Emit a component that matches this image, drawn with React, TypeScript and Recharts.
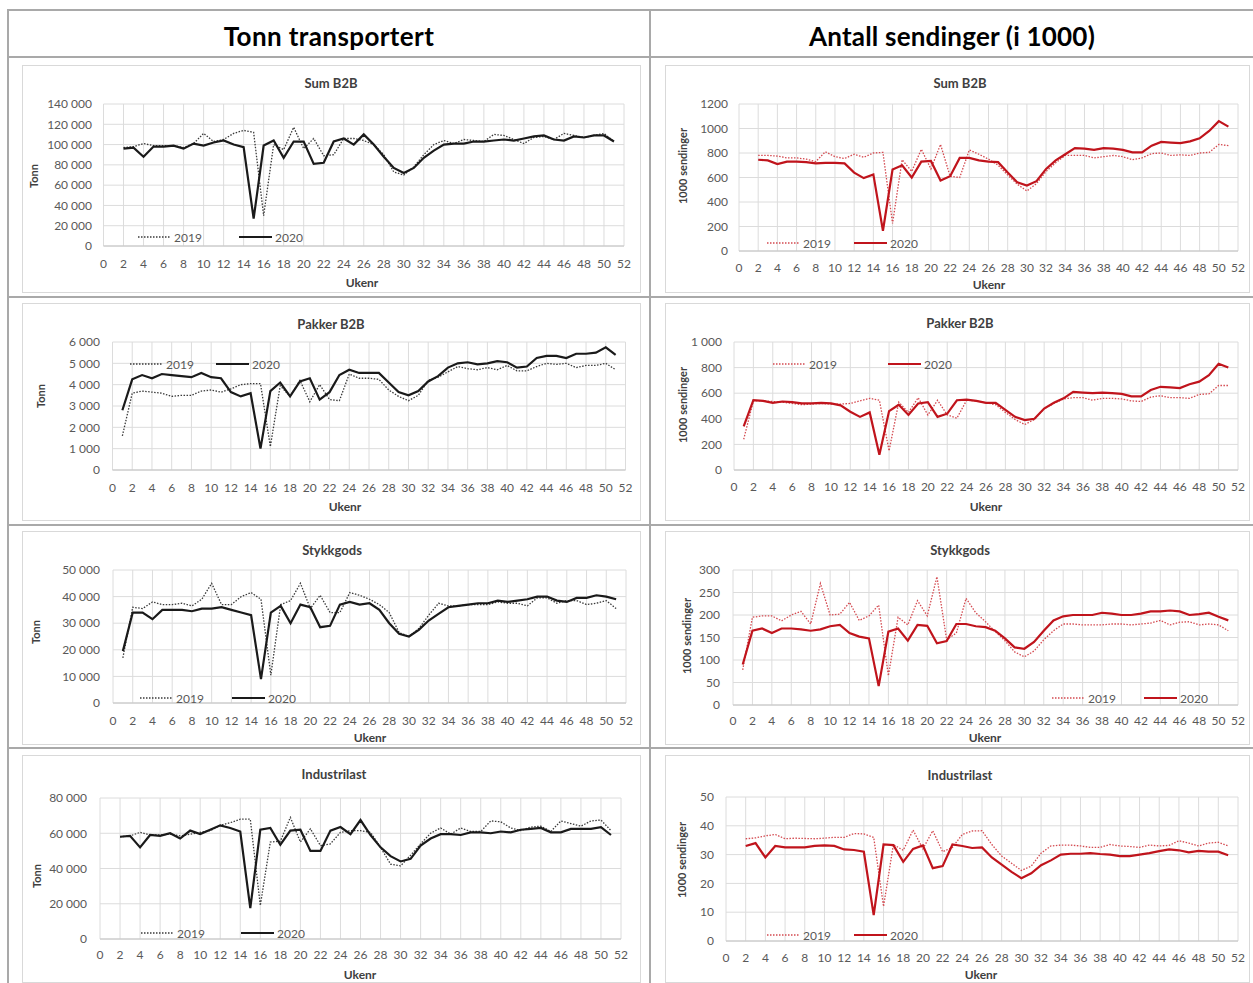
import { LineChart, Line, XAxis, YAxis, CartesianGrid } from 'recharts';

// --- categories ---
const weeksFrom1 = [1, 2, 3, 4, 5, 6, 7, 8, 9, 10, 11, 12, 13, 14, 15, 16, 17, 18, 19, 20, 21, 22, 23, 24, 25, 26, 27, 28, 29, 30, 31, 32, 33, 34, 35, 36, 37, 38, 39, 40, 41, 42, 43, 44, 45, 46, 47, 48, 49, 50, 51];
const weeksFrom2 = [2, 3, 4, 5, 6, 7, 8, 9, 10, 11, 12, 13, 14, 15, 16, 17, 18, 19, 20, 21, 22, 23, 24, 25, 26, 27, 28, 29, 30, 31, 32, 33, 34, 35, 36, 37, 38, 39, 40, 41, 42, 43, 44, 45, 46, 47, 48, 49, 50, 51];
const weekTicks = [0, 2, 4, 6, 8, 10, 12, 14, 16, 18, 20, 22, 24, 26, 28, 30, 32, 34, 36, 38, 40, 42, 44, 46, 48, 50, 52];

// --- Sum B2B ---
const sumTonn2019 = [97000, 98000, 101000, 99000, 99000, 99000, 97000, 101000, 111000, 103000, 105000, 111000, 114000, 112000, 30000, 100000, 95000, 117000, 96000, 106000, 89000, 90000, 106000, 106000, 104000, 100000, 90000, 73000, 70000, 78000, 90000, 100000, 104000, 101000, 105000, 104000, 103000, 110000, 109000, 105000, 101000, 107000, 108000, 105000, 111000, 109000, 107000, 109000, 111000, 103000];
const sumTonn2020 = [96000, 97000, 88000, 98000, 98000, 99000, 96000, 101000, 99000, 102000, 104000, 100000, 97500, 27000, 99000, 104000, 87000, 103000, 103000, 81000, 82000, 103000, 106000, 100000, 110000, 100000, 88000, 77000, 72000, 77000, 87000, 94000, 100000, 101000, 101000, 103000, 103000, 104000, 105000, 104000, 106000, 108000, 109000, 105000, 104000, 108000, 107000, 109000, 109000, 103000];
const sumSend2019 = [780, 780, 775, 760, 760, 750, 730, 810, 770, 755, 790, 765, 800, 805, 225, 745, 650, 830, 670, 870, 610, 600, 825, 790, 750, 700, 620, 545, 490, 550, 650, 720, 780, 780, 780, 760, 770, 780, 770, 745, 760, 795, 800, 780, 785, 780, 800, 805, 870, 860];
const sumSend2020 = [745, 740, 710, 730, 730, 725, 715, 720, 720, 715, 640, 595, 625, 165, 665, 700, 600, 730, 735, 575, 610, 760, 760, 740, 730, 725, 640, 560, 535, 570, 670, 740, 790, 840, 835, 825, 840, 835, 825, 805, 805, 860, 890, 885, 880, 895, 920, 980, 1060, 1015];

// --- Pakker B2B ---
const pakTonn2019 = [1600, 3600, 3700, 3650, 3600, 3450, 3500, 3500, 3700, 3750, 3650, 3800, 4000, 4050, 4050, 1100, 3950, 3450, 4200, 3200, 4000, 3300, 3250, 4500, 4300, 4300, 4250, 3750, 3450, 3250, 3500, 4200, 4350, 4600, 4850, 4750, 4700, 4800, 4700, 4900, 4650, 4650, 4850, 5000, 4950, 5000, 4800, 4900, 4900, 5000, 4700];
const pakTonn2020 = [2800, 4250, 4450, 4300, 4500, 4450, 4400, 4350, 4550, 4350, 4300, 3650, 3450, 3600, 1000, 3700, 4100, 3450, 4150, 4300, 3300, 3650, 4450, 4700, 4550, 4550, 4550, 4100, 3650, 3500, 3700, 4150, 4400, 4800, 5000, 5050, 4950, 5000, 5100, 5050, 4800, 4850, 5250, 5350, 5350, 5250, 5450, 5450, 5500, 5750, 5400];
const pakSend2019 = [240, 540, 540, 535, 530, 520, 510, 515, 520, 515, 515, 520, 540, 560, 545, 150, 530, 450, 565, 430, 545, 430, 405, 545, 540, 525, 510, 450, 395, 355, 395, 480, 520, 555, 565, 565, 545, 560, 560, 555, 540, 535, 570, 580, 565, 565, 560, 590, 595, 660, 660];
const pakSend2020 = [340, 545, 540, 525, 535, 530, 520, 520, 525, 520, 505, 455, 415, 450, 120, 460, 510, 430, 520, 530, 415, 440, 545, 550, 540, 525, 525, 470, 415, 390, 400, 480, 525, 560, 610, 605, 600, 605, 600, 595, 575, 575, 625, 650, 645, 640, 670, 690, 740, 830, 800];

// --- Stykkgods ---
const styTonn2019 = [17000, 36000, 35500, 38000, 37000, 37000, 37500, 36500, 39000, 45000, 37000, 37000, 40000, 41500, 39000, 10500, 37000, 38500, 45000, 35500, 40500, 34000, 34000, 41500, 40500, 39000, 37000, 34000, 26500, 25000, 28000, 33000, 37500, 36500, 36500, 37000, 37000, 37000, 38000, 37500, 37500, 36500, 39500, 39500, 37500, 38500, 38500, 37000, 37500, 38500, 35500];
const styTonn2020 = [19500, 34000, 34000, 31500, 35000, 35000, 35000, 34500, 35500, 35500, 36000, 35000, 34000, 33000, 9000, 34000, 36500, 30000, 37000, 36000, 28500, 29000, 37000, 38000, 37000, 37500, 35000, 30000, 26000, 25000, 27500, 31000, 33500, 36000, 36500, 37000, 37500, 37500, 38500, 38000, 38500, 39000, 40000, 40000, 38500, 38000, 39500, 39500, 40500, 40000, 39000];
const stySend2019 = [78, 195, 198, 198, 187, 200, 208, 180, 270, 200, 202, 228, 188, 198, 222, 65, 195, 178, 232, 198, 285, 145, 160, 237, 205, 185, 163, 143, 118, 107, 120, 145, 165, 180, 180, 178, 178, 178, 180, 180, 178, 180, 182, 188, 178, 184, 185, 178, 180, 178, 165];
const stySend2020 = [90, 165, 170, 160, 170, 170, 168, 165, 168, 175, 178, 160, 152, 148, 42, 163, 170, 143, 178, 176, 137, 142, 180, 180, 175, 173, 165, 148, 128, 125, 140, 165, 188, 197, 200, 200, 200, 205, 203, 200, 200, 203, 208, 208, 210, 208, 200, 202, 205, 196, 188];

// --- Industrilast ---
const indTonn2019 = [58000, 58500, 60500, 59000, 59000, 59500, 58500, 59500, 60500, 61500, 64500, 66000, 68000, 68000, 19000, 55000, 55500, 69000, 55000, 62500, 53000, 54000, 60500, 61500, 61500, 60500, 52000, 42500, 41500, 47500, 54000, 60000, 63000, 59500, 63000, 61000, 61000, 67000, 66500, 63000, 61500, 63500, 64000, 61000, 67000, 65500, 64000, 67000, 67500, 61500];
const indTonn2020 = [58000, 58500, 52000, 59000, 58500, 60000, 57000, 61500, 59500, 62000, 64500, 63000, 61000, 17500, 62000, 63000, 53500, 61500, 62000, 50000, 50000, 61500, 63500, 59500, 67500, 59000, 52000, 47000, 44000, 45500, 53000, 57000, 59500, 59500, 59000, 60500, 60500, 60000, 61000, 60500, 62000, 62500, 63000, 60500, 60500, 62500, 62500, 62500, 63500, 59000];
const indSend2019 = [35.5, 35.8, 36.5, 37, 35.5, 35.7, 35.6, 35.5, 35.7, 36, 36, 37.3, 37.2, 36, 12, 33.5, 31.5, 38.5, 32, 38.3, 31, 32.5, 37, 38.2, 38.3, 33.5, 29.5, 27, 24.5, 26, 30.5, 33, 33.3, 33.3, 33, 32.5, 32.5, 33.5, 33, 32.8, 32.5, 33.3, 33, 33.2, 34.8, 34, 33, 34, 34.3, 33];
const indSend2020 = [33, 34, 29, 33, 32.5, 32.5, 32.5, 33, 33.2, 33, 31.8, 31.6, 31, 9, 33.5, 33.3, 27.5, 32, 33.2, 25.3, 26, 33.5, 33, 32.3, 32.5, 29, 26.5, 24, 21.8, 23.5, 26.3, 28, 30, 30.3, 30.3, 30.5, 30.2, 30, 29.5, 29.5, 30, 30.5, 31.2, 31.8, 31.5, 30.8, 31.3, 31, 31, 29.8];

// --- y ticks ---
const ticksSumTonn = [0, 20000, 40000, 60000, 80000, 100000, 120000, 140000];
const ticksSumSend = [0, 200, 400, 600, 800, 1000, 1200];
const ticksPakTonn = [0, 1000, 2000, 3000, 4000, 5000, 6000];
const ticksPakSend = [0, 200, 400, 600, 800, 1000];
const ticksStyTonn = [0, 10000, 20000, 30000, 40000, 50000];
const ticksStySend = [0, 50, 100, 150, 200, 250, 300];
const ticksIndTonn = [0, 20000, 40000, 60000, 80000];
const ticksIndSend = [0, 10, 20, 30, 40, 50];

const FONT = 'Lato, "Open Sans", "DejaVu Sans", sans-serif';
const BORDER = '#a9a9a9';

const spaced = (v: number) => String(v).replace(/\B(?=(\d{3})+(?!\d))/g, ' ');
const plain = (v: number) => String(v);

const panels = [
  { title: 'Sum B2B', yLab: 'Tonn', weeks: weeksFrom2, s19: sumTonn2019, s20: sumTonn2020, ticks: ticksSumTonn, fmt: spaced, red: false,
    frame: [22, 65, 641, 293], plot: [103.5, 104, 624, 246], yLabRight: 92, xLabY: 264, titleAt: [331, 83], ukAt: [362, 282], yLabAt: [33, 176], leg: [138, 239, 237] },
  { title: 'Sum B2B', yLab: '1000 sendinger', weeks: weeksFrom2, s19: sumSend2019, s20: sumSend2020, ticks: ticksSumSend, fmt: plain, red: true,
    frame: [665, 65, 1250, 293], plot: [739, 104, 1238, 251], yLabRight: 728, xLabY: 268, titleAt: [960, 83], ukAt: [989, 284], yLabAt: [682, 166], leg: [767, 854, 243] },
  { title: 'Pakker B2B', yLab: 'Tonn', weeks: weeksFrom1, s19: pakTonn2019, s20: pakTonn2020, ticks: ticksPakTonn, fmt: spaced, red: false,
    frame: [22, 303, 641, 521], plot: [112.5, 342, 625.5, 470], yLabRight: 100, xLabY: 488, titleAt: [331, 324], ukAt: [345, 506], yLabAt: [40, 396], leg: [130, 216, 364] },
  { title: 'Pakker B2B', yLab: '1000 sendinger', weeks: weeksFrom1, s19: pakSend2019, s20: pakSend2020, ticks: ticksPakSend, fmt: spaced, red: true,
    frame: [665, 303, 1250, 521], plot: [734, 342, 1238, 470], yLabRight: 722, xLabY: 487, titleAt: [960, 323], ukAt: [986, 506], yLabAt: [682, 405], leg: [773, 888, 364] },
  { title: 'Stykkgods', yLab: 'Tonn', weeks: weeksFrom1, s19: styTonn2019, s20: styTonn2020, ticks: ticksStyTonn, fmt: spaced, red: false,
    frame: [22, 531, 641, 745], plot: [113, 570, 626, 703], yLabRight: 100, xLabY: 721, titleAt: [332, 550], ukAt: [370, 737], yLabAt: [35, 632], leg: [140, 232, 698] },
  { title: 'Stykkgods', yLab: '1000 sendinger', weeks: weeksFrom1, s19: stySend2019, s20: stySend2020, ticks: ticksStySend, fmt: plain, red: true,
    frame: [665, 531, 1250, 745], plot: [733, 570, 1238, 705], yLabRight: 720, xLabY: 721, titleAt: [960, 550], ukAt: [985, 737], yLabAt: [686, 636], leg: [1052, 1144, 698] },
  { title: 'Industrilast', yLab: 'Tonn', weeks: weeksFrom2, s19: indTonn2019, s20: indTonn2020, ticks: ticksIndTonn, fmt: spaced, red: false,
    frame: [22, 755, 641, 983], plot: [100, 798, 621, 939], yLabRight: 87, xLabY: 955, titleAt: [334, 774], ukAt: [360, 974], yLabAt: [36, 876], leg: [141, 241, 933] },
  { title: 'Industrilast', yLab: '1000 sendinger', weeks: weeksFrom2, s19: indSend2019, s20: indSend2020, ticks: ticksIndSend, fmt: plain, red: true,
    frame: [665, 755, 1250, 983], plot: [726, 797, 1238, 941], yLabRight: 714, xLabY: 958, titleAt: [960, 775], ukAt: [981, 974], yLabAt: [681, 860], leg: [767, 854, 935] },
];

type P = (typeof panels)[number];

const centered = (x: number, y: number, extra: React.CSSProperties = {}): React.CSSProperties => ({
  position: 'absolute', left: x, top: y, transform: 'translate(-50%, -50%)', whiteSpace: 'nowrap', ...extra,
});

function LegendItem({ x, y, label, color, dotted }: { x: number; y: number; label: string; color: string; dotted: boolean }) {
  return (
    <div style={{ position: 'absolute', left: x, top: y - 8, height: 16, display: 'flex', alignItems: 'center', gap: 3 }}>
      <svg width={33} height={6}>
        <line x1={0} y1={3} x2={33} y2={3} stroke={color} strokeWidth={dotted ? 1.3 : 2} strokeDasharray={dotted ? '1.5 1.5' : undefined} />
      </svg>
      <span style={{ fontSize: 12, color: '#595959' }}>{label}</span>
    </div>
  );
}

function Panel({ p }: { p: P }) {
  const [fl, ft, fr, fb] = p.frame;
  const [pl, pt, pr, pb] = p.plot;
  const rows = p.weeks.map((w, i) => ({ w, y2019: p.s19[i], y2020: p.s20[i] }));
  const c20 = p.red ? '#c0141c' : '#1a1a1a';
  const c19 = p.red ? '#d44a50' : '#3a3a3a';
  const tick = { fontSize: 12, fill: '#595959' };
  return (
    <>
      <div style={{ position: 'absolute', left: fl, top: ft, width: fr - fl, height: fb - ft, border: '1px solid #d9d9d9', boxSizing: 'border-box' }} />
      <div style={{ position: 'absolute', left: fl, top: ft }}>
        <LineChart width={fr - fl} height={fb - ft} data={rows} margin={{ top: pt - ft, right: fr - pr, left: 0, bottom: 0 }}>
          <CartesianGrid stroke="#dcdcdc" />
          <XAxis type="number" dataKey="w" domain={[0, 52]} ticks={weekTicks} interval={0} height={fb - pb}
            tick={tick} tickLine={false} tickSize={0} tickMargin={p.xLabY - pb - 4.5} axisLine={{ stroke: '#c4c4c4' }} />
          <YAxis type="number" domain={[0, p.ticks[p.ticks.length - 1]]} ticks={p.ticks} interval={0} width={pl - fl}
            tick={tick} tickLine={false} tickSize={0} tickMargin={pl - p.yLabRight} axisLine={false} tickFormatter={p.fmt} />
          <Line type="linear" dataKey="y2019" stroke={c19} strokeWidth={1.3} strokeDasharray="1.5 1.5" dot={false} isAnimationActive={false} />
          <Line type="linear" dataKey="y2020" stroke={c20} strokeWidth={2.2} dot={false} isAnimationActive={false} />
        </LineChart>
      </div>
      <div style={centered(p.titleAt[0], p.titleAt[1], { fontSize: 13, fontWeight: 700, color: '#404040' })}>{p.title}</div>
      <div style={centered(p.ukAt[0], p.ukAt[1], { fontSize: 12, fontWeight: 700, color: '#404040' })}>Ukenr</div>
      <div style={centered(p.yLabAt[0], p.yLabAt[1], { fontSize: 11, fontWeight: 700, color: '#404040', transform: 'translate(-50%, -50%) rotate(-90deg)' })}>{p.yLab}</div>
      <LegendItem x={p.leg[0]} y={p.leg[2]} label="2019" color={c19} dotted />
      <LegendItem x={p.leg[1]} y={p.leg[2]} label="2020" color={c20} dotted={false} />
    </>
  );
}

export default function App() {
  const hLine = (y: number) => <div key={'h' + y} style={{ position: 'absolute', left: 7, top: y, width: 1246, height: 2, background: BORDER }} />;
  const vLine = (x: number) => <div key={'v' + x} style={{ position: 'absolute', left: x, top: 10, width: 2, height: 973, background: BORDER }} />;
  return (
    <div style={{ position: 'absolute', left: 0, top: 0, width: 1253, height: 983, overflow: 'hidden', background: '#fff', fontFamily: FONT }}>
      {[9, 56, 296, 524, 747].map(hLine)}
      {[7, 649].map(vLine)}
      <div style={centered(329, 36, { fontSize: 26, fontWeight: 700, color: '#000', letterSpacing: 0.4 })}>Tonn transportert</div>
      <div style={centered(952, 36, { fontSize: 26, fontWeight: 700, color: '#000', letterSpacing: 0.2 })}>Antall sendinger (i 1000)</div>
      {panels.map((p, i) => <Panel key={i} p={p} />)}
    </div>
  );
}
